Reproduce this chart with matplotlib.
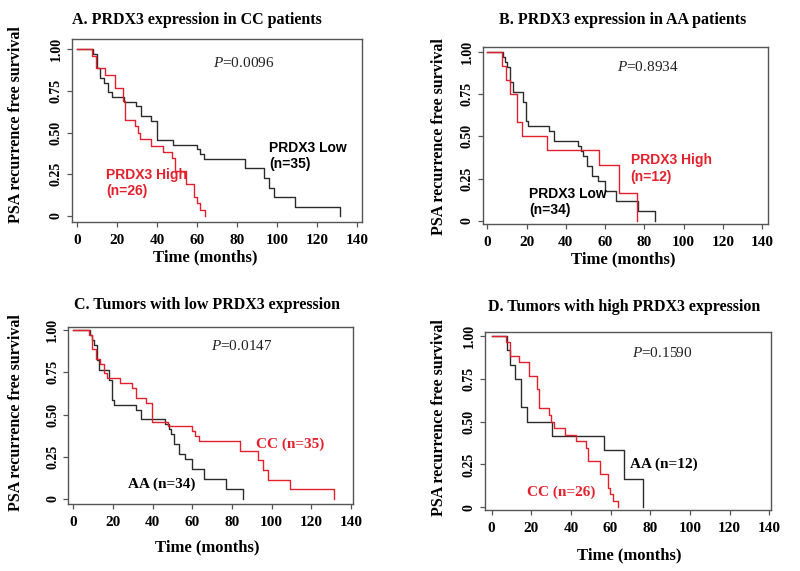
import matplotlib
matplotlib.use("Agg")
import matplotlib.pyplot as plt

plt.rcParams['mathtext.fontset'] = 'custom'
plt.rcParams['mathtext.rm'] = 'Liberation Serif'
plt.rcParams['mathtext.it'] = 'Liberation Serif:italic'

# ---- Kaplan-Meier curves (time in months, survival) ----
CC_LOW_T = [0, 7.8, 9.6, 11.4, 13.4, 15.3, 17.2, 23.5, 29.4, 31.6, 36.8, 39.6, 47.8,
            59.7, 61.4, 63.2, 84.0, 93.2, 95.8, 98.3, 109.0, 131.5]
CC_LOW_S = [1, 0.971, 0.886, 0.829, 0.800, 0.743, 0.714, 0.686, 0.657, 0.600, 0.571,
            0.457, 0.429, 0.400, 0.371, 0.343, 0.286, 0.229, 0.171, 0.114, 0.057, 0.0]

CC_HIGH_T = [0, 7.2, 9.3, 14.0, 18.8, 22.8, 23.7, 28.8, 30.2, 31.3, 36.8, 42.8, 47.5,
             48.7, 54.5, 58.5, 59.9, 61.4, 63.7]
CC_HIGH_S = [1, 0.962, 0.885, 0.846, 0.769, 0.692, 0.577, 0.538, 0.500, 0.462, 0.423,
             0.385, 0.346, 0.269, 0.192, 0.115, 0.077, 0.038, 0.0]

AA_LOW_T = [0, 8.2, 9.3, 10.3, 11.8, 13.2, 18.0, 19.6, 20.6, 31.5, 34.0, 46.0, 48.0,
            49.0, 51.0, 53.5, 56.5, 60.0, 65.8, 77.0, 85.4]
AA_LOW_S = [1, 0.971, 0.941, 0.912, 0.824, 0.765, 0.706, 0.588, 0.559, 0.529, 0.471,
            0.441, 0.412, 0.382, 0.324, 0.265, 0.235, 0.176, 0.118, 0.059, 0.0]

AA_HIGH_T = [0, 7.7, 9.4, 11.6, 15.0, 17.8, 30.6, 56.9, 67.0, 76.4]
AA_HIGH_S = [1, 0.917, 0.833, 0.750, 0.583, 0.500, 0.417, 0.333, 0.167, 0.0]

X_TICKS = [0, 20, 40, 60, 80, 100, 120, 140]
Y_TICKS = [0, 0.25, 0.50, 0.75, 1.00]
Y_TICK_LABELS = ["0", "0.25", "0.50", "0.75", "1.00"]

TITLES = ["A. PRDX3 expression in CC patients",
          "B. PRDX3 expression in AA patients",
          "C. Tumors with low PRDX3 expression",
          "D. Tumors with high PRDX3 expression"]
P_VALUES = ["0.0096", "0.8934", "0.0147", "0.1590"]

RED = "#e3202b"
BLK = "#2b2b2b"
FRAME = "#555555"
SERIF = "Liberation Serif"
SANS = "Liberation Sans"

fig = plt.figure(figsize=(8.0, 5.71), dpi=100)

W, H = 800.0, 571.0
def make_ax(left, top, right, bottom, xlim, ylim):
    ax = fig.add_axes([left / W, 1 - bottom / H, (right - left) / W, (bottom - top) / H])
    ax.set_xlim(*xlim)
    ax.set_ylim(*ylim)
    return ax

def ftext(x, y, s, **kw):
    fig.text(x / W, 1 - y / H, s, **kw)

panels = [
    (make_ax(71.7, 39.3, 361.7, 221.7, (-2.8, 142.2), (-0.034, 1.06)),
     [(CC_LOW_T, CC_LOW_S, BLK), (CC_HIGH_T, CC_HIGH_S, RED)]),
    (make_ax(482.7, 46.7, 767.7, 224.0, (-2.3, 142.8), (-0.018, 1.03)),
     [(AA_LOW_T, AA_LOW_S, BLK), (AA_HIGH_T, AA_HIGH_S, RED)]),
    (make_ax(68.3, 326.7, 352.7, 504.0, (-2.5, 140.8), (-0.03, 1.02)),
     [(AA_LOW_T, AA_LOW_S, BLK), (CC_LOW_T, CC_LOW_S, RED)]),
    (make_ax(485.0, 331.7, 771.0, 510.0, (-3.3, 140.9), (-0.016, 1.025)),
     [(AA_HIGH_T, AA_HIGH_S, BLK), (CC_HIGH_T, CC_HIGH_S, RED)]),
]

# pixel positions of title, x label, y label centres
TITLE_POS = [(197, 20), (623, 20), (207, 305), (624, 307)]
XLAB_POS = [(205, 257), (623, 259), (207, 547), (629, 555)]
YLAB_POS = [(16, 125), (439, 137), (16, 413), (439, 418)]

for i, (ax, curves) in enumerate(panels):
    for t, s, c in curves:
        ax.step(t, s, where='post', color=c, lw=1.0)
    for sp in ax.spines.values():
        sp.set_color(FRAME)
        sp.set_linewidth(1.0)
    ax.set_xticks(X_TICKS)
    ax.set_xticklabels([str(v) for v in X_TICKS], fontfamily=SERIF,
                       fontweight='bold', fontsize=11)
    ax.set_yticks(Y_TICKS)
    ax.set_yticklabels(Y_TICK_LABELS, fontfamily=SERIF, fontweight='bold',
                       fontsize=10, rotation=90, va='center')
    ax.tick_params(axis='both', direction='out', length=3.5, width=0.9,
                   color=FRAME, pad=3)
    ax.tick_params(axis='x', pad=5)
    ftext(*TITLE_POS[i], TITLES[i], fontfamily=SERIF, fontweight='bold',
          fontsize=11.5, ha='center', va='center')
    ftext(*XLAB_POS[i], "Time (months)", fontfamily=SERIF, fontweight='bold',
          fontsize=12, ha='center', va='center')
    ftext(*YLAB_POS[i], "PSA recurrence free survival", fontfamily=SERIF,
          fontweight='bold', fontsize=11.5, ha='center', va='center', rotation=90)

axA, axB, axC, axD = [p[0] for p in panels]

def ptext(ax, x, y, val):
    ax.text(x, y, r"$\it{P}$=" + val, fontfamily=SERIF, fontsize=11,
            ha='center', va='center', color='#222222')

ptext(axA, 83, 0.92, P_VALUES[0])
ptext(axB, 82, 0.91, P_VALUES[1])
ptext(axC, 85, 0.905, P_VALUES[2])
ptext(axD, 86, 0.90, P_VALUES[3])

# Panel A annotations
axA.text(96, 0.36, "PRDX3 Low\n(n=35)", fontfamily=SANS, fontweight='bold', fontsize=10,
         color='black', ha='left', va='center', linespacing=1.2)
axA.text(14.5, 0.20, "PRDX3 High\n(n=26)", fontfamily=SANS, fontweight='bold', fontsize=10,
         color=RED, ha='left', va='center', linespacing=1.2)
# Panel B
axB.text(73, 0.31, "PRDX3 High\n(n=12)", fontfamily=SANS, fontweight='bold', fontsize=10,
         color=RED, ha='left', va='center', linespacing=1.2)
axB.text(21.3, 0.11, "PRDX3 Low\n(n=34)", fontfamily=SANS, fontweight='bold', fontsize=10,
         color='black', ha='left', va='center', linespacing=1.2)
# Panel C
axC.text(92, 0.325, "CC (n=35)", fontfamily=SERIF, fontweight='bold', fontsize=11,
         color=RED, ha='left', va='center')
axC.text(27.5, 0.085, "AA (n=34)", fontfamily=SERIF, fontweight='bold', fontsize=11,
         color='black', ha='left', va='center')
# Panel D
axD.text(70, 0.25, "AA (n=12)", fontfamily=SERIF, fontweight='bold', fontsize=11,
         color='black', ha='left', va='center')
axD.text(18, 0.09, "CC (n=26)", fontfamily=SERIF, fontweight='bold', fontsize=11,
         color=RED, ha='left', va='center')

fig.savefig("out.png", dpi=100, facecolor='white')
